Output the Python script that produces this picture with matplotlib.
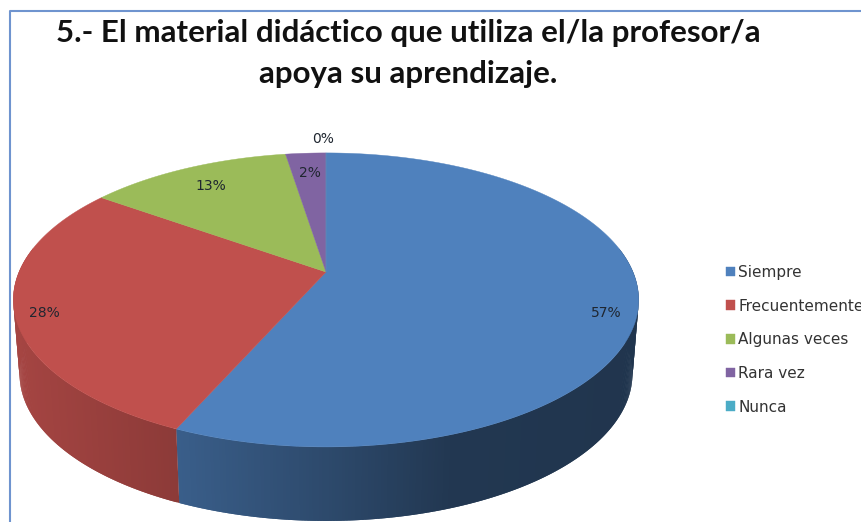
import numpy as np
import matplotlib
matplotlib.use("Agg")
import matplotlib.pyplot as plt
from matplotlib.colors import to_rgb
from matplotlib.lines import Line2D

# Survey answers (printed labels are 57, 28, 13, 2, 0; slice sizes)
categories = ["Siempre", "Frecuentemente", "Algunas veces", "Rara vez", "Nunca"]
values = [56.6, 28.3, 12.6, 2.5, 0]
colors = ["#4F81BD", "#C0504D", "#9BBB59", "#8064A2", "#4BACC6"]
title_lines = ["5.- El material didáctico que utiliza el/la profesor/a",
               "apoya su aprendizaje."]

W, H = 862, 522
apex_x, apex_y = 326, 272
tilt = 0.19
a, b = 141.7, 307
depth, taper = 74, 0.98


# Tilted disc: clock angle in degrees to pixel position
def project(deg):
    t = np.radians(deg)
    w = 1 + tilt * np.cos(t)
    return apex_x + b * np.sin(t) / w, apex_y - a * np.cos(t) / w


plt.rcParams['font.family'] = ['DejaVu Sans']

fig = plt.figure(figsize=(W / 100, H / 100), dpi=100, facecolor="white")
ax = fig.add_axes([0, 0, 1, 1])
ax.set_xlim(0, W)
ax.set_ylim(H, 0)
ax.axis('off')

edges = np.cumsum([0] + values) / sum(values) * 360

# Side wall first, the top hides what it should
for i, col in enumerate(colors):
    a0 = max(edges[i], 80)
    a1 = min(edges[i + 1], 280)
    if a1 <= a0:
        continue
    base = np.array(to_rgb(col))
    for s in np.arange(a0, a1, 0.5):
        e = min(s + 1.0, a1)
        x0, y0 = project(s)
        x1, y1 = project(e)
        xb0 = apex_x + (x0 - apex_x) * taper
        xb1 = apex_x + (x1 - apex_x) * taper
        shade = np.interp((x0 + x1) / 2, [13, 175, 326, 450, 639],
                          [0.86, 0.73, 0.57, 0.43, 0.41])
        ax.fill([x0, x1, xb1, xb0], [y0, y1, y1 + depth, y0 + depth],
                color=base * shade, lw=0, zorder=2)

# Top of the pie
handles = []
for i, col in enumerate(colors):
    arc = np.linspace(edges[i], edges[i + 1], 200)
    ax_, ay_ = project(arc)
    poly = ax.fill(np.r_[apex_x, ax_], np.r_[apex_y, ay_], color=col, lw=0.3, zorder=3)
    handles.append(poly[0])

# Percent labels
label_px = [(606, 313), (44, 313), (211, 186), (310, 173), (323, 139)]
for v, (px, py) in zip(values, label_px):
    ax.text(px, py, f"{v:.0f}%", ha="center", va="center", fontsize=10,
            color="#1f2630", zorder=5)

fig.text(408 / W, 1 - 33 / H, title_lines[0], ha="center", va="center", family="Lato",
         fontsize=22.5, fontweight="bold", color="#111111")
fig.text(408 / W, 1 - 74 / H, title_lines[1], ha="center", va="center", family="Lato",
         fontsize=22.5, fontweight="bold", color="#111111")

fig.legend(handles, categories, loc="upper left", bbox_to_anchor=(726 / W, 1 - 265 / H),
           frameon=False, fontsize=11, labelspacing=1.22, handlelength=0.6,
           handleheight=0.6, handletextpad=0.2, borderpad=0, borderaxespad=0,
           labelcolor="#333333")

# Chart frame, open on the right and bottom
fig.add_artist(Line2D([10 / W, 10 / W, 1], [0, 1 - 11 / H, 1 - 11 / H],
                      color="#6F94CF", lw=1.5))

fig.savefig("out.png", dpi=100)
